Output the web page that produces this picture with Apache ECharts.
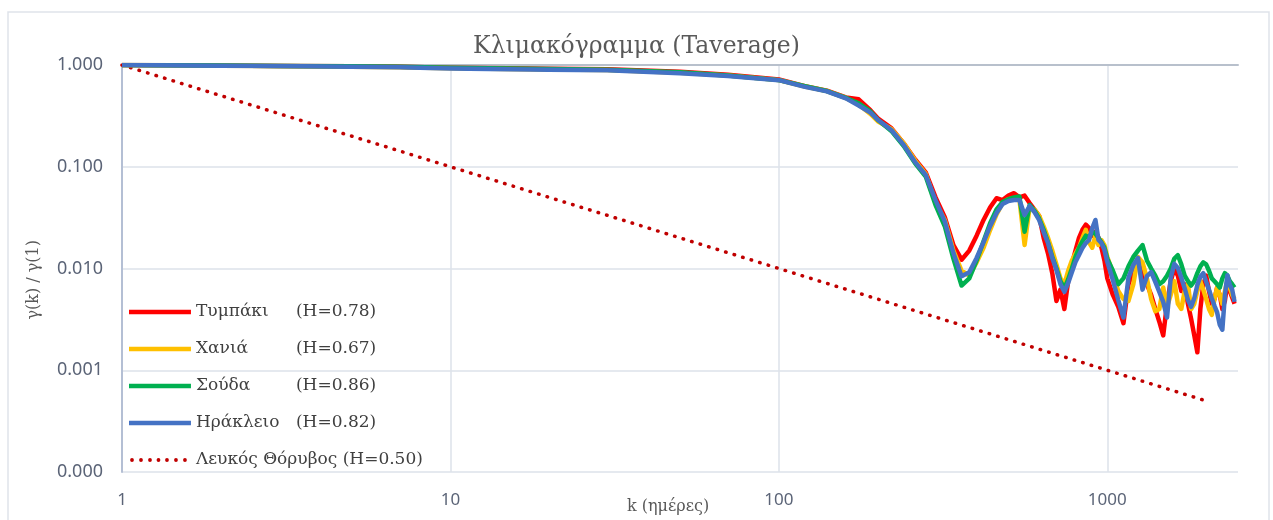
<!DOCTYPE html>
<html>
<head>
<meta charset="utf-8">
<script src="https://cdn.jsdelivr.net/npm/echarts@6/dist/echarts.min.js"></script>
<style>
  html, body { margin: 0; padding: 0; background: #fff; }
  #chart { width: 1273px; height: 520px; }
</style>
</head>
<body>
<div id="chart"></div>
<script>
// κλίμακες k (ημέρες)
var kDays = [1, 2, 3, 5, 7, 10, 15, 20, 30, 50, 70, 100, 120, 140, 160, 175, 190, 200, 220, 240, 260, 280,
  300, 320, 340, 360, 380, 400, 420, 440, 460, 480, 500, 520, 540, 560, 580, 600, 620, 640, 660, 680,
  700, 720, 740, 760, 780, 800, 820, 840, 860, 880, 900, 920, 940, 960, 980,
  1000, 1040, 1080, 1120, 1160, 1200, 1240, 1280, 1320, 1360, 1400, 1440, 1480, 1520, 1560, 1600,
  1640, 1680, 1720, 1760, 1800, 1840, 1880, 1920, 1960, 2000, 2040, 2080, 2120, 2160, 2200, 2240,
  2280, 2320, 2360, 2400, 2440];

var stationNames = ['Τυμπάκι', 'Χανιά', 'Σούδα', 'Ηράκλειο'];
var hurst = ['(H=0.78)', '(H=0.67)', '(H=0.86)', '(H=0.82)'];
var noiseName = 'Λευκός Θόρυβος';
var noiseHurst = '(H=0.50)';

var tympaki = [1.0, 0.99, 0.98, 0.97, 0.96, 0.94, 0.93, 0.92, 0.91, 0.86, 0.80, 0.72, 0.62, 0.56, 0.48, 0.46, 0.36, 0.30, 0.24, 0.17, 0.118, 0.088,
  0.050, 0.032, 0.017, 0.0122, 0.0150, 0.0210, 0.0300, 0.0400, 0.0490, 0.0470, 0.0520, 0.0550, 0.0500, 0.0520, 0.0440, 0.0380, 0.0330, 0.0200, 0.0140, 0.0090,
  0.0048, 0.0062, 0.0040, 0.0075, 0.0110, 0.0150, 0.0200, 0.0240, 0.0270, 0.0250, 0.0210, 0.0230, 0.0200, 0.0160, 0.0120,
  0.0080, 0.0055, 0.0042, 0.0029, 0.0070, 0.0095, 0.0125, 0.0085, 0.0070, 0.0055, 0.0040, 0.0030, 0.0022, 0.0045, 0.0075, 0.0100,
  0.0085, 0.0060, 0.0070, 0.0045, 0.0032, 0.0022, 0.0015, 0.0040, 0.0070, 0.0085, 0.0060, 0.0045, 0.0050, 0.0065, 0.0055, 0.0040,
  0.0048, 0.0072, 0.0060, 0.0052, 0.0045];

var chania = [1.0, 0.985, 0.975, 0.96, 0.95, 0.93, 0.915, 0.905, 0.895, 0.84, 0.79, 0.71, 0.615, 0.555, 0.475, 0.41, 0.33, 0.28, 0.235, 0.17, 0.115, 0.085,
  0.044, 0.030, 0.0150, 0.0095, 0.0085, 0.0115, 0.0160, 0.0240, 0.0340, 0.0440, 0.0480, 0.0490, 0.0480, 0.0170, 0.0400, 0.0380, 0.0330, 0.0260, 0.0200, 0.0150,
  0.0110, 0.0080, 0.0070, 0.0095, 0.0120, 0.0140, 0.0160, 0.0200, 0.0240, 0.0180, 0.0160, 0.0210, 0.0170, 0.0190, 0.0170,
  0.0130, 0.0090, 0.0060, 0.0050, 0.0048, 0.0070, 0.0130, 0.0115, 0.0080, 0.0050, 0.0038, 0.0040, 0.0065, 0.0042, 0.0055, 0.0075,
  0.0045, 0.0040, 0.0060, 0.0070, 0.0040, 0.0045, 0.0060, 0.0075, 0.0062, 0.0050, 0.0040, 0.0035, 0.0050, 0.0065, 0.0055, 0.0045,
  0.0060, 0.0075, 0.0065, 0.0055, 0.0050];

var souda = [1.0, 0.99, 0.98, 0.97, 0.96, 0.94, 0.925, 0.915, 0.90, 0.85, 0.79, 0.71, 0.62, 0.555, 0.475, 0.42, 0.35, 0.29, 0.225, 0.16, 0.108, 0.080,
  0.042, 0.026, 0.0125, 0.0068, 0.0080, 0.0120, 0.0185, 0.0280, 0.0380, 0.0450, 0.0480, 0.0500, 0.0510, 0.0230, 0.0420, 0.0370, 0.0310, 0.0240, 0.0180, 0.0130,
  0.0100, 0.0075, 0.0064, 0.0078, 0.0100, 0.0130, 0.0160, 0.0185, 0.0210, 0.0200, 0.0230, 0.0220, 0.0200, 0.0180, 0.0160,
  0.0125, 0.0095, 0.0070, 0.0080, 0.0105, 0.0130, 0.0150, 0.0170, 0.0120, 0.0100, 0.0085, 0.0070, 0.0075, 0.0085, 0.0100, 0.0125,
  0.0135, 0.0110, 0.0085, 0.0075, 0.0068, 0.0075, 0.0090, 0.0105, 0.0115, 0.0110, 0.0095, 0.0080, 0.0075, 0.0070, 0.0065, 0.0080,
  0.0090, 0.0085, 0.0075, 0.0070, 0.0065];

var irakleio = [1.0, 0.985, 0.975, 0.96, 0.95, 0.925, 0.91, 0.90, 0.89, 0.83, 0.78, 0.71, 0.61, 0.55, 0.47, 0.40, 0.34, 0.29, 0.23, 0.164, 0.111, 0.083,
  0.047, 0.029, 0.0142, 0.0084, 0.0092, 0.0127, 0.0182, 0.0262, 0.0351, 0.0430, 0.0461, 0.0471, 0.0471, 0.0336, 0.0411, 0.0359, 0.0300, 0.0228, 0.0178, 0.0127,
  0.0097, 0.0070, 0.0059, 0.0072, 0.0092, 0.0116, 0.0136, 0.0159, 0.0178, 0.0191, 0.0250, 0.0300, 0.0191, 0.0178, 0.0152,
  0.0116, 0.0077, 0.0049, 0.0033, 0.0081, 0.0108, 0.0127, 0.0062, 0.0084, 0.0092, 0.0074, 0.0059, 0.0047, 0.0033, 0.0081, 0.0111,
  0.0101, 0.0081, 0.0064, 0.0049, 0.0042, 0.0051, 0.0069, 0.0083, 0.0090, 0.0074, 0.0062, 0.0051, 0.0043, 0.0037, 0.0028, 0.0025,
  0.0054, 0.0086, 0.0069, 0.0062, 0.0047];

// λευκός θόρυβος: ευθεία από (1, 1) ως (2000, 0.0005)
var noiseK = [1, 2000];
var noiseV = [1, 0.0005];

var xTicks = [1, 10, 100, 1000];
var stationColors = ['#ff0000', '#ffc000', '#00b050', '#4472c4'];

function pairs(xs, ys) {
  return xs.map(function (x, i) { return [x, ys[i]]; });
}

// εικονίδια υπομνήματος: γραμμή 62x14 και διακεκομμένη με τελείες
var lineIcon = 'path://M0,0h0.01v0.01h-0.01z M62,14h0.01v0.01h-0.01z M0,4.75h62v4.5h-62z';
var dotIcon = 'path://M0,0h0.01v0.01h-0.01z M62,14h0.01v0.01h-0.01z' +
  [3, 12, 21, 29.5, 38, 47, 56].map(function (cx) {
    return ' M' + (cx - 1.9) + ',7a1.9,1.9 0 1,0 3.8,0a1.9,1.9 0 1,0 -3.8,0z';
  }).join('');

var myChart = echarts.init(document.getElementById('chart'));

var stationData = [tympaki, chania, souda, irakleio];
var series = stationData.map(function (vals, i) {
  return {
    name: stationNames[i],
    type: 'line',
    xAxisIndex: 0,
    symbol: 'none',
    data: pairs(kDays, vals),
    lineStyle: { color: stationColors[i], width: 4.5, join: 'round' },
    itemStyle: { color: stationColors[i] },
    z: 3 + i
  };
});
series.push({
  name: noiseName,
  type: 'line',
  symbol: 'none',
  data: pairs(noiseK, noiseV),
  lineStyle: { color: '#c00000', width: 3.5, type: [0.5, 8.4], cap: 'round' },
  itemStyle: { color: '#c00000' },
  z: 2
});

var serif = '"DejaVu Serif", serif';

var legendData = stationNames.map(function (n) { return { name: n, icon: lineIcon }; });
legendData.push({ name: noiseName, icon: dotIcon });

var option = {
  animation: false,
  backgroundColor: '#fff',
  title: {
    text: 'Κλιμακόγραμμα (Taverage)',
    left: 'center',
    top: 30,
    textStyle: { fontFamily: serif, fontSize: 23.5, fontWeight: 'normal', color: '#595959' }
  },
  grid: { left: 122, right: 35, top: 65, bottom: 48 },
  legend: {
    orient: 'vertical',
    left: 124,
    top: 297,
    itemWidth: 62,
    itemHeight: 14,
    itemGap: 17,
    itemStyle: { borderWidth: 0 },
    data: legendData,
    formatter: function (name) {
      var i = stationNames.indexOf(name);
      if (i >= 0) return '{n|' + name + '}{h|' + hurst[i] + '}';
      return '{m|' + name + ' }{h|' + noiseHurst + '}';
    },
    textStyle: {
      fontFamily: serif, fontSize: 17, color: '#404040', lineHeight: 20,
      rich: {
        n: { fontFamily: serif, fontSize: 17, color: '#404040', width: 100 },
        m: { fontFamily: serif, fontSize: 17, color: '#404040' },
        h: { fontFamily: serif, fontSize: 17, color: '#404040' }
      }
    }
  },
  xAxis: [{
    type: 'log',
    logBase: 10,
    min: 1,
    max: 2500,
    position: 'bottom',
    axisLine: { show: false },
    axisTick: { show: false },
    axisLabel: {
      margin: 20,
      fontFamily: '"Noto Sans", sans-serif',
      fontSize: 17,
      color: '#5b6477',
      formatter: function (v) {
        for (var i = 0; i < xTicks.length; i++) {
          if (Math.abs(v - xTicks[i]) < 1e-6 * xTicks[i]) return String(xTicks[i]);
        }
        return '';
      }
    },
    splitLine: { show: true, showMaxLine: false, lineStyle: { color: '#dde2ea', width: 1.5 } }
  }, {
    type: 'log',
    logBase: 10,
    min: 1,
    max: 2500,
    position: 'top',
    axisLine: { show: true, lineStyle: { color: '#b8c0cc', width: 2 } },
    axisTick: { show: false },
    axisLabel: { show: false },
    splitLine: { show: false }
  }],
  yAxis: {
    type: 'log',
    logBase: 10,
    min: 0.0001,
    max: 1,
    axisLine: { show: true, lineStyle: { color: '#b4bfd4', width: 2 } },
    axisTick: { show: false },
    axisLabel: {
      margin: 19,
      fontFamily: '"Noto Sans", sans-serif',
      fontSize: 18,
      color: '#5b6477',
      formatter: function (v) { return v.toFixed(3); }
    },
    splitLine: { show: true, lineStyle: { color: '#dde2ea', width: 1.5 } }
  },
  graphic: [{
    type: 'rect',
    silent: true,
    shape: { x: 8, y: 12, width: 1261, height: 530 },
    style: { fill: 'none', stroke: '#dfe3ea', lineWidth: 1.5 },
    z: -10
  }, {
    type: 'text',
    left: 26,
    top: 240,
    rotation: Math.PI / 2,
    style: {
      text: 'γ(k) / γ(1)',
      fontFamily: serif,
      fontSize: 16,
      fill: '#595959'
    }
  }, {
    type: 'text',
    left: 627,
    top: 499,
    style: {
      text: 'k (ημέρες)',
      fontFamily: serif,
      fontSize: 16,
      fill: '#595959'
    }
  }],
  series: series
};

myChart.setOption(option);
</script>
</body>
</html>
